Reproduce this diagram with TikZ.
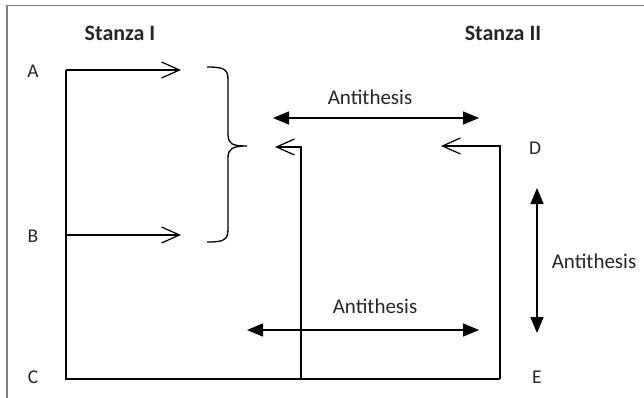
\documentclass[tikz,border=0pt]{standalone}
\usepackage{fontspec}
\setmainfont{Carlito}
\usetikzlibrary{arrows.meta}
\tikzset{
  lbl/.style={font=\fontsize{19.5}{21}\selectfont, text=black!85, inner sep=0pt},
  head/.style={font=\bfseries\fontsize{22}{24}\selectfont, text=black!85, inner sep=0pt},
  anti/.style={font=\fontsize{21}{23}\selectfont, text=black!85, inner sep=0pt},
  flow/.style={line width=1.5pt, -{Straight Barb[length=18pt,width=16pt,line width=1.2pt]}},
  plain/.style={line width=1.5pt},
  twoway/.style={line width=1.5pt, {Triangle[length=16pt,width=13pt]}-{Triangle[length=16pt,width=13pt]}},
}
\begin{document}
\begin{tikzpicture}[x=1pt,y=-1pt]
\useasboundingbox (0,0) rectangle (644,398);
% frame
\draw[gray, line width=1.5pt] (7,398) -- (7,5.5) -- (644,5.5);

% headings and line labels
\node[head] (s1) at (120,33) {Stanza I};
\node[head] (s2) at (503,33) {Stanza II};
\node[lbl] (A) at (33,71) {A};
\node[lbl] (B) at (33,236) {B};
\node[lbl] (C) at (33,377) {C};
\node[lbl] (D) at (535,148) {D};
\node[lbl] (E) at (537,377) {E};

% corner points of the connecting lines
\coordinate (a0) at (66,70);
\coordinate (a1) at (181,70);
\coordinate (b0) at (66,235);
\coordinate (b1) at (181,235);
\coordinate (c0) at (66,379);
\coordinate (c1) at (500,379);
\coordinate (m0) at (301,379);
\coordinate (m1) at (301,147);
\coordinate (m2) at (275,147);
\coordinate (d1) at (500,146);
\coordinate (d2) at (441,146);

% stanza I lines
\draw[plain] (a0) -- (c0) -- (c1);
\draw[flow] (a0) -- (a1);
\draw[flow] (b0) -- (b1);
\draw[flow] (m0) -- (m1) -- (m2);
\draw[flow] (c1) -- (d1) -- (d2);

% brace grouping A and B
\draw[line width=1.3pt]
  (207,67) .. controls (224,67) and (228,69) .. (228,80)
  -- (228,134) .. controls (228,144) and (232,146) .. (247,146)
  .. controls (232,146) and (228,149) .. (228,158)
  -- (228,229) .. controls (228,240) and (224,242) .. (207,242);

% antithesis arrows
\coordinate (t0) at (273,118);
\coordinate (t1) at (479,118);
\coordinate (u0) at (247,330);
\coordinate (u1) at (479,330);
\coordinate (v0) at (537,188);
\coordinate (v1) at (537,333);
\draw[twoway] (t0) -- (t1);
\draw[twoway] (u0) -- (u1);
\draw[twoway] (v0) -- (v1);
\node[anti] (at1) at (370,97) {Antithesis};
\node[anti] (at2) at (375,306) {Antithesis};
\node[anti] (at3) at (594,261) {Antithesis};
\end{tikzpicture}
\end{document}
